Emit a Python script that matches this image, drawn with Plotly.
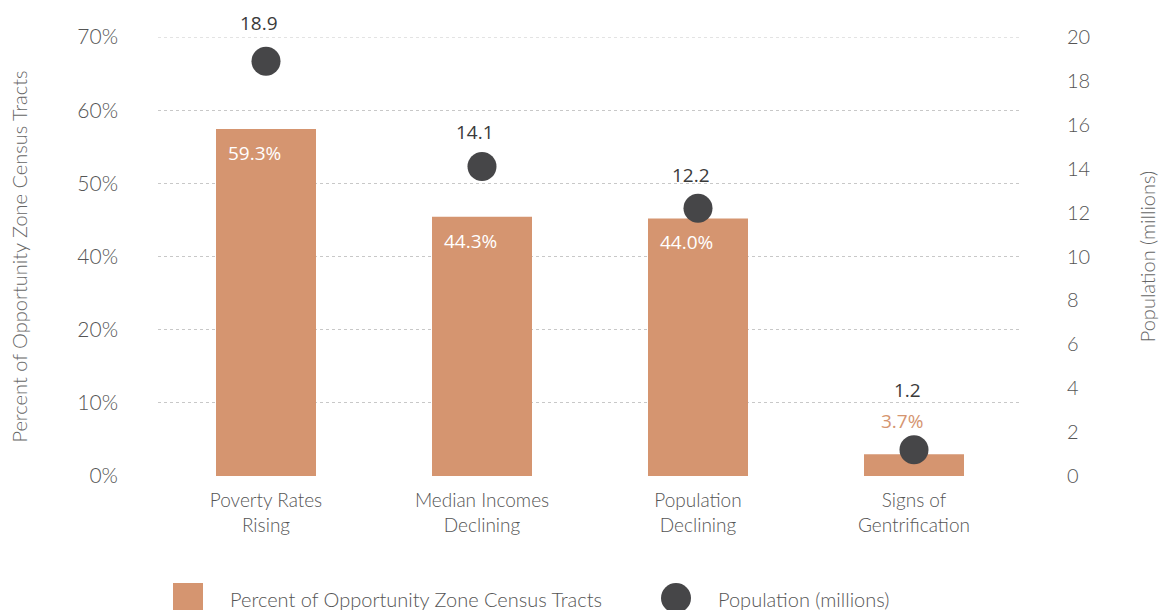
import numpy as np
import plotly.graph_objects as go

categories = ["Poverty Rates<br>Rising", "Median Incomes<br>Declining",
              "Population<br>Declining", "Signs of<br>Gentrification"]
pct_tracts = [59.3, 44.3, 44.0, 3.7]
population = [18.9, 14.1, 12.2, 1.2]
left_tick_text = ["0%", "10%", "20%", "40%", "50%", "60%", "70%"]
right_tick_vals = [0, 2, 4, 6, 8, 10, 12, 14, 16, 18, 20]

bar_name = "Percent of Opportunity Zone Census Tracts"
pop_name = "Population (millions)"

BAR_COLOR = "#D59570"
DOT_COLOR = "#464648"
TXT = "#555555"
GRID = "#c8c8c8"
FONT = "Lato"

left_max = 75
left_tick_vals = list(np.linspace(0, left_max, len(left_tick_text)))

fig = go.Figure()
fig.add_trace(go.Bar(x=categories, y=pct_tracts, name=bar_name,
                     marker=dict(color=BAR_COLOR, line=dict(width=0)),
                     width=0.463, yaxis="y", showlegend=False, hoverinfo="y"))
fig.add_trace(go.Scatter(x=categories, y=population, name=pop_name, mode="markers",
                         marker=dict(color=DOT_COLOR, size=29, line=dict(width=0)),
                         yaxis="y2", showlegend=False))

# top gridline (plotly omits the gridline lying on the plot edge)
fig.add_shape(type="line", xref="paper", yref="y", x0=0, x1=1,
              y0=left_tick_vals[-1], y1=left_tick_vals[-1],
              line=dict(color=GRID, width=1, dash="dot"), layer="below")

# bar value labels
bar_inside = [True, True, True, False]
for c, v, inside in zip(categories, pct_tracts, bar_inside):
    fig.add_annotation(x=c, y=v, xref="x", yref="y", text=f"{v:.1f}%",
                       showarrow=False, yanchor="middle", xshift=-12,
                       yshift=-24 if inside else 33,
                       font=dict(family="Open Sans", size=19, weight=400,
                                 color="white" if inside else BAR_COLOR))
# population labels
pop_shift = [38, 35, 33, 60]
for c, v, s in zip(categories, population, pop_shift):
    fig.add_annotation(x=c, y=v, xref="x", yref="y2", text=f"{v:.1f}",
                       showarrow=False, yanchor="middle", xshift=-7, yshift=s,
                       font=dict(family="Open Sans", size=19, weight=400, color="#3a3a3a"))

# custom legend
fig.add_shape(type="rect", xref="paper", yref="paper",
              x0=(173 - 158) / 864, x1=(203 - 158) / 864,
              y0=(476 - 615) / 439, y1=(476 - 583) / 439,
              fillcolor=BAR_COLOR, line=dict(width=0))
fig.add_shape(type="circle", xref="paper", yref="paper",
              x0=(661 - 158) / 864, x1=(691 - 158) / 864,
              y0=(476 - 613) / 439, y1=(476 - 583) / 439,
              fillcolor=DOT_COLOR, line=dict(width=0))
fig.add_annotation(xref="paper", yref="paper", x=(228 - 158) / 864, y=(476 - 599) / 439,
                   text=bar_name, showarrow=False, xanchor="left", yanchor="middle",
                   font=dict(family=FONT, size=20, weight=300, color=TXT))
fig.add_annotation(xref="paper", yref="paper", x=(716 - 158) / 864, y=(476 - 599) / 439,
                   text=pop_name, showarrow=False, xanchor="left", yanchor="middle",
                   font=dict(family=FONT, size=20, weight=300, color=TXT))

fig.update_layout(
    width=1161, height=610,
    margin=dict(l=158, r=139, t=37, b=134),
    paper_bgcolor="white", plot_bgcolor="white",
    font=dict(family=FONT, size=18, color=TXT, weight=300),
    bargap=0.5,
    xaxis=dict(range=[-0.5, 3.5], showgrid=False, showline=False, zeroline=False,
               automargin=False,
               ticks="", tickfont=dict(size=19, color=TXT), ticklabelstandoff=11),
    yaxis=dict(range=[0, left_max], tickvals=left_tick_vals, ticktext=left_tick_text,
               showgrid=True, gridcolor=GRID, griddash="dot", gridwidth=1,
               zeroline=False, showline=False, ticks="", ticklabelstandoff=39,
               automargin=False,
               tickfont=dict(size=21, color=TXT),
               title=dict(text=bar_name, standoff=44,
                          font=dict(size=20, color="#666666"))),
    yaxis2=dict(range=[0, 20], tickvals=right_tick_vals, overlaying="y", side="right",
                showgrid=False, zeroline=False, showline=False, ticks="",
                automargin=False,
                ticklabelstandoff=44, tickfont=dict(size=20, color=TXT),
                title=dict(text=pop_name, standoff=51,
                           font=dict(size=20, color="#666666"))),
)

fig.write_html("out.html")
